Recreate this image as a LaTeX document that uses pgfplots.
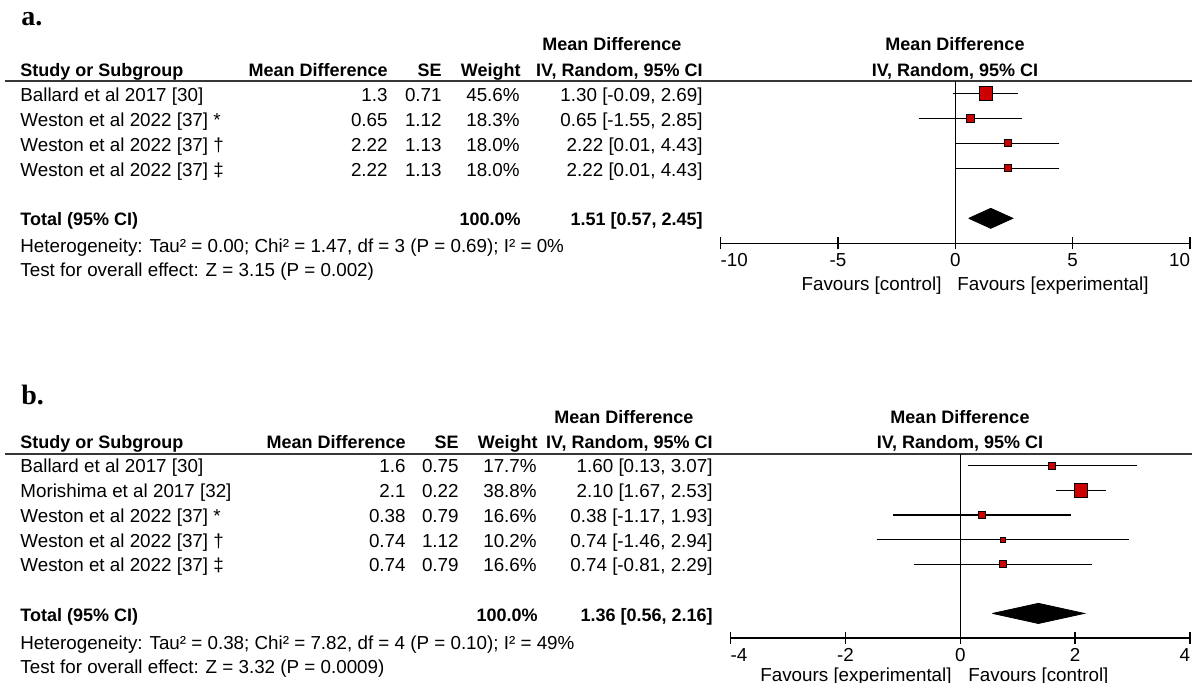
\documentclass[border=0pt]{standalone}
\usepackage{fontspec}
\setmainfont{Liberation Sans}
\newfontfamily\lblfont{Liberation Serif}
\usepackage{pgfplots}
\pgfplotsset{compat=1.18}
\definecolor{fred}{RGB}{204,0,0}
\definecolor{rulegray}{RGB}{55,55,55}

\newcommand{\rfont}{\fontsize{9.4}{11}\selectfont}
\newcommand{\bfont}{\fontsize{9.0}{11}\selectfont\bfseries}
\newcommand{\TL}[3]{\node[anchor=base west,inner sep=0pt,font=\rfont] at (#1,#2) {#3};}
\newcommand{\TR}[3]{\node[anchor=base east,inner sep=0pt,font=\rfont] at (#1,#2) {#3};}
\newcommand{\BL}[3]{\node[anchor=base west,inner sep=0pt,font=\bfont] at (#1,#2) {#3};}
\newcommand{\BR}[3]{\node[anchor=base east,inner sep=0pt,font=\bfont] at (#1,#2) {#3};}
\newcommand{\BC}[3]{\node[anchor=base,inner sep=0pt,font=\bfont] at (#1,#2) {#3};}

\pgfplotsset{
  forest/.style={
    scale only axis, clip=false,
    axis x line*=bottom, axis y line=none,
    tick align=center, major tick length=6pt,
    every tick/.style={black, line width=0.7pt},
    axis line style={black, line width=0.7pt},
    xticklabel style={font=\rfont, anchor=base, yshift=-8.65pt},
  },
  ci/.style={black, line width=0.55pt, mark=none},
  sqm/.style={only marks, mark=square*, mark options={fill=fred, draw=none}},
}

\begin{document}
\begin{tikzpicture}[x=0.5pt, y=-0.5pt]

% ---------------- panel a ----------------
\node[anchor=base west, inner sep=0pt, font=\fontsize{14}{16}\selectfont\lblfont\bfseries] at (21,25) {a.};

\BC{612}{50}{Mean Difference}
\BL{20}{76}{Study or Subgroup}
\BR{388}{76}{Mean Difference}
\BR{442}{76}{SE}
\BR{521}{76}{Weight}
\BR{703}{76}{IV, Random, 95\% CI}
\BC{955}{50}{Mean Difference}
\BC{955}{76}{IV, Random, 95\% CI}
\draw[line width=1pt, rulegray] (5,81) -- (1192,81);

\TL{20}{101.5}{Ballard et al 2017 [30]}
\TL{20}{126.5}{Weston et al 2022 [37] *}
\TL{20}{151.5}{Weston et al 2022 [37] †}
\TL{20}{176.5}{Weston et al 2022 [37] ‡}
\TR{388}{101.5}{1.3}   \TR{442}{101.5}{0.71} \TR{520}{101.5}{45.6\%} \TR{703}{101.5}{1.30 [-0.09, 2.69]}
\TR{388}{126.5}{0.65}  \TR{442}{126.5}{1.12} \TR{520}{126.5}{18.3\%} \TR{703}{126.5}{0.65 [-1.55, 2.85]}
\TR{388}{151.5}{2.22}  \TR{442}{151.5}{1.13} \TR{520}{151.5}{18.0\%} \TR{703}{151.5}{2.22 [0.01, 4.43]}
\TR{388}{176.5}{2.22}  \TR{442}{176.5}{1.13} \TR{520}{176.5}{18.0\%} \TR{703}{176.5}{2.22 [0.01, 4.43]}

\BL{20}{225.5}{Total (95\% CI)}
\BR{521}{225.5}{100.0\%}
\BR{703}{225.5}{1.51 [0.57, 2.45]}
\TL{20}{252.5}{Heterogeneity: Tau² = 0.00; Chi² = 1.47, df = 3 (P = 0.69); I² = 0\%}
\TL{20}{276.5}{Test for overall effect: Z = 3.15 (P = 0.002)}
\TR{942}{290.5}{Favours [control]}
\TL{957}{290.5}{Favours [experimental]}

\begin{axis}[forest,
  at={(360.35pt,-121.65pt)}, anchor=south west,
  width=234.65pt, height=81.25pt,
  xmin=-10, xmax=10, ymin=0, ymax=6.5,
  xtick={-10,-5,0,5,10},
  xticklabels={\rlap{-10},-5,0,5,\llap{10}},
]
\addplot[black, line width=0.5pt] coordinates {(0,0) (0,6.5)};
% 95% CIs
\addplot[ci] coordinates {(-0.09,6) (2.69,6)};
\addplot[ci] coordinates {(-1.55,5) (2.85,5)};
\addplot[ci] coordinates {(0.01,4) (4.43,4)};
\addplot[ci] coordinates {(0.01,3) (4.43,3)};
% point estimates (square size by weight)
\addplot[sqm, mark size=3.3pt]  coordinates {(1.30,6)};
\addplot[sqm, mark size=1.9pt]  coordinates {(0.65,5)};
\addplot[sqm, mark size=1.75pt] coordinates {(2.22,4)};
\addplot[sqm, mark size=1.75pt] coordinates {(2.22,3)};
% pooled estimate
\addplot[fill=black, draw=black] coordinates {(0.57,1) (1.51,1.4) (2.45,1) (1.51,0.6) (0.57,1)};
\end{axis}

% ---------------- panel b ----------------
\node[anchor=base west, inner sep=0pt, font=\fontsize{14}{16}\selectfont\lblfont\bfseries] at (21,404) {b.};

\BC{624}{423}{Mean Difference}
\BL{20}{448}{Study or Subgroup}
\BR{406}{448}{Mean Difference}
\BR{459}{448}{SE}
\BR{538}{448}{Weight}
\BR{713}{448}{IV, Random, 95\% CI}
\BC{960}{423}{Mean Difference}
\BC{960}{448}{IV, Random, 95\% CI}
\draw[line width=1pt, rulegray] (5,453.5) -- (1192,453.5);

\TL{20}{472.5}{Ballard et al 2017 [30]}
\TL{20}{497.5}{Morishima et al 2017 [32]}
\TL{20}{522.5}{Weston et al 2022 [37] *}
\TL{20}{547}{Weston et al 2022 [37] †}
\TL{20}{571.5}{Weston et al 2022 [37] ‡}
\TR{406}{472.5}{1.6}  \TR{459}{472.5}{0.75} \TR{537}{472.5}{17.7\%} \TR{713}{472.5}{1.60 [0.13, 3.07]}
\TR{406}{497.5}{2.1}  \TR{459}{497.5}{0.22} \TR{537}{497.5}{38.8\%} \TR{713}{497.5}{2.10 [1.67, 2.53]}
\TR{406}{522.5}{0.38} \TR{459}{522.5}{0.79} \TR{537}{522.5}{16.6\%} \TR{713}{522.5}{0.38 [-1.17, 1.93]}
\TR{406}{547}{0.74}   \TR{459}{547}{1.12}   \TR{537}{547}{10.2\%}   \TR{713}{547}{0.74 [-1.46, 2.94]}
\TR{406}{571.5}{0.74} \TR{459}{571.5}{0.79} \TR{537}{571.5}{16.6\%} \TR{713}{571.5}{0.74 [-0.81, 2.29]}

\BL{20}{621}{Total (95\% CI)}
\BR{538}{621}{100.0\%}
\BR{713}{621}{1.36 [0.56, 2.16]}
\TL{20}{649.5}{Heterogeneity: Tau² = 0.38; Chi² = 7.82, df = 4 (P = 0.10); I² = 49\%}
\TL{20}{673.5}{Test for overall effect: Z = 3.32 (P = 0.0009)}
\TR{952}{681}{Favours [experimental]}
\TL{968}{681}{Favours [control]}

\begin{axis}[forest,
  at={(365.35pt,-319pt)}, anchor=south west,
  width=229.65pt, height=92.25pt,
  xmin=-4, xmax=4, ymin=0, ymax=7.5,
  xtick={-4,-2,0,2,4},
  xticklabels={\rlap{-4},-2,0,2,\llap{4}},
]
\addplot[black, line width=0.5pt] coordinates {(0,0) (0,7.5)};
% 95% CIs
\addplot[ci] coordinates {(0.13,7) (3.07,7)};
\addplot[ci] coordinates {(1.67,6) (2.53,6)};
\addplot[ci] coordinates {(-1.17,5) (1.93,5)};
\addplot[ci] coordinates {(-1.46,4) (2.94,4)};
\addplot[ci] coordinates {(-0.81,3) (2.29,3)};
% point estimates
\addplot[sqm, mark size=1.8pt]  coordinates {(1.60,7)};
\addplot[sqm, mark size=3.3pt]  coordinates {(2.10,6)};
\addplot[sqm, mark size=1.7pt]  coordinates {(0.38,5)};
\addplot[sqm, mark size=1.3pt]  coordinates {(0.74,4)};
\addplot[sqm, mark size=1.7pt]  coordinates {(0.74,3)};
% pooled estimate
\addplot[fill=black, draw=black] coordinates {(0.56,1) (1.36,1.41) (2.16,1) (1.36,0.59) (0.56,1)};
\end{axis}

\pgfresetboundingbox
\useasboundingbox (0,0) rectangle (1192,682);
\end{tikzpicture}
\end{document}
